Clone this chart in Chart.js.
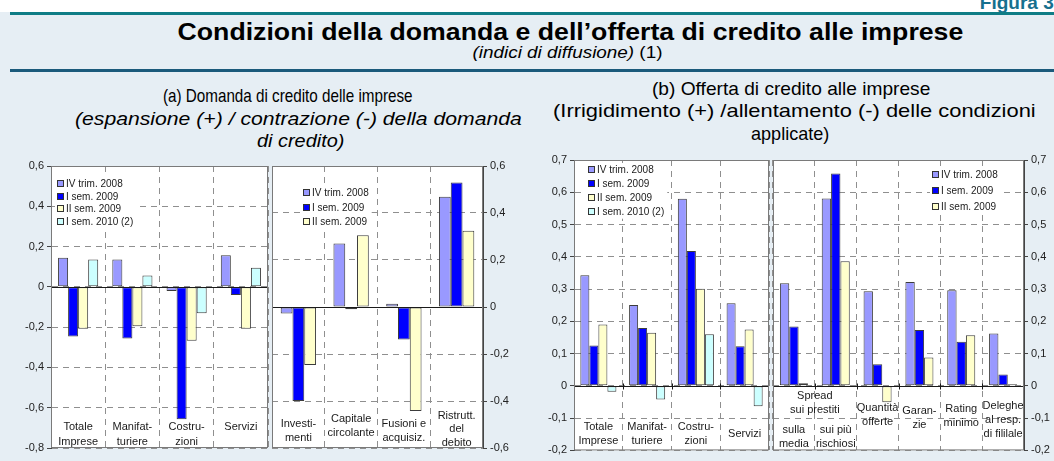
<!DOCTYPE html>
<html>
<head>
<meta charset="utf-8">
<title>Condizioni della domanda e dell'offerta di credito alle imprese</title>
<script src="https://cdn.jsdelivr.net/npm/chart.js@4.4.1/dist/chart.umd.min.js"></script>
<style>
  body { margin: 0; width: 1054px; height: 461px; background: #e6eef4; position: relative; overflow: hidden;
         font-family: "Liberation Sans", Arial, sans-serif; color: #000; }
  .strip { position: absolute; left: 0; top: 0; width: 1054px; height: 12px; background: #fff; overflow: hidden; }
  .fig { position: absolute; right: -5px; top: -8px; font-weight: bold; font-size: 19px; color: #16708e; white-space: nowrap; }
  .rule { position: absolute; left: 10px; right: 0; }
  .t { position: absolute; white-space: nowrap; line-height: 1; transform-origin: center center;
       font-family: "Liberation Sans Narrow", "Arial Narrow", "Liberation Sans", Arial, sans-serif; }
  .box { position: absolute; }
</style>
</head>
<body>
<div class="strip"><div class="fig">Figura 3.</div></div>
<div class="rule" style="top:12px;height:3px;background:#0f7d86"></div>
<div class="rule" style="top:69px;height:3px;background:#1b5a7b"></div>

<div class="t" data-cx="570" data-cy="32" data-w="786" style="font-size:24px;font-weight:bold">Condizioni della domanda e dell’offerta di credito alle imprese</div>
<div class="t" data-cx="567" data-cy="53" data-w="190" style="font-size:16px"><i>(indici di diffusione)</i> (1)</div>

<div class="t" data-cx="288" data-cy="95" data-w="250" style="font-size:19px">(a) Domanda di credito delle imprese</div>
<div class="t" data-cx="298" data-cy="118" data-w="447" style="font-size:19px;font-style:italic">(espansione (+) / contrazione (-) della domanda</div>
<div class="t" data-cx="300" data-cy="140" data-w="87" style="font-size:19px;font-style:italic">di credito)</div>

<div class="t" data-cx="791" data-cy="88" data-w="278" style="font-size:19px">(b) Offerta di credito alle imprese</div>
<div class="t" data-cx="794" data-cy="110" data-w="483" style="font-size:19px">(Irrigidimento (+) /allentamento (-) delle condizioni</div>
<div class="t" data-cx="790" data-cy="133" data-w="78" style="font-size:19px">applicate)</div>

<div class="box" style="left:5px;top:150px"><canvas id="demandSector" width="265" height="310"></canvas></div>
<div class="box" style="left:270px;top:150px"><canvas id="demandPurpose" width="275" height="310"></canvas></div>
<div class="box" style="left:530px;top:145px"><canvas id="supplySector" width="242" height="315"></canvas></div>
<div class="box" style="left:772px;top:145px"><canvas id="supplyTerms" width="282" height="315"></canvas></div>

<script>
// series
const seriesLabels = ['IV trim. 2008', 'I sem. 2009', 'II sem. 2009', 'I sem. 2010 (2)'];
const seriesColors = ['#9999ff', '#0000ff', '#ffffcc', '#ccffff'];

// (a) demand by sector
const sectorCats = [['Totale', 'Imprese'], ['Manifat-', 'turiere'], ['Costru-', 'zioni'], ['Servizi']];
const demandIV08 = [0.144, 0.136, -0.02, 0.157];
const demandI09 = [-0.246, -0.257, -0.657, -0.041];
const demandII09 = [-0.208, -0.195, -0.267, -0.208];
const demandI10 = [0.136, 0.057, -0.131, 0.095];

// (a) demand by purpose
const purposeCats = [['Investi-', 'menti'], ['Capitale', 'circolante'], ['Fusioni e', 'acquisiz.'], ['Ristrutt.', 'del', 'debito']];
const purposeIV08 = [-0.028, 0.27, 0.014, 0.469];
const purposeI09 = [-0.40, -0.01, -0.138, 0.53];
const purposeII09 = [-0.247, 0.305, -0.443, 0.325];

// (b) supply by sector
const supplyIV08 = [0.343, 0.251, 0.58, 0.256];
const supplyI09 = [0.125, 0.179, 0.418, 0.123];
const supplyII09 = [0.19, 0.165, 0.301, 0.175];
const supplyI10 = [-0.018, -0.042, 0.16, -0.063];

// (b) supply terms
const termsCats = [['sulla', 'media'], ['sui più', 'rischiosi'], ['Quantità', 'offerte'], ['Garan-', 'zie'], ['Rating', 'minimo'], ['Deleghe', 'al resp.', 'di fililale']];
const spreadGroup = ['Spread', 'sui prestiti'];
const termsIV08 = [0.318, 0.581, 0.293, 0.322, 0.296, 0.162];
const termsI09 = [0.184, 0.658, 0.067, 0.173, 0.137, 0.035];
const termsII09 = [0.008, 0.386, -0.051, 0.088, 0.157, 0.005];

// y ticks
const ticksDemandSector = [-0.8, -0.6, -0.4, -0.2, 0, 0.2, 0.4, 0.6];
const ticksDemandPurpose = [-0.6, -0.4, -0.2, 0, 0.2, 0.4, 0.6];
const ticksSupply = [-0.2, -0.1, 0, 0.1, 0.2, 0.3, 0.4, 0.5, 0.6, 0.7];

// place and stretch the header texts
document.querySelectorAll('.t').forEach(el => {
  const w0 = el.offsetWidth, h0 = el.offsetHeight;
  el.style.left = (el.dataset.cx - w0 / 2) + 'px';
  el.style.top = (el.dataset.cy - h0 / 2) + 'px';
  el.style.transform = 'scaleX(' + (el.dataset.w / w0) + ')';
});

const FONT = '"Liberation Sans", Arial, sans-serif';
Chart.defaults.font.family = FONT;

const fmt = v => v === 0 ? '0' : (Math.round(v * 10) / 10).toFixed(1).replace('.', ',');

const panelPlugin = {
  id: 'panel',
  beforeDraw(chart) {
    const { ctx, chartArea: a } = chart;
    ctx.save();
    ctx.fillStyle = '#fff';
    ctx.fillRect(a.left, a.top, a.right - a.left, a.bottom - a.top);
    ctx.restore();
  },
  afterDatasetsDraw(chart, args, opts) {
    const { ctx, chartArea: a, scales: { x, y } } = chart;
    const y0 = Math.round(y.getPixelForValue(0)) + 0.5;
    ctx.save();
    ctx.strokeStyle = '#1a1a1a';
    ctx.lineWidth = 1;
    ctx.beginPath();
    ctx.moveTo(a.left, y0);
    ctx.lineTo(a.right, y0);
    if (opts.zeroTicks) {
      for (let i = 1; i < chart.data.labels.length; i++) {
        const px = Math.round((x.getPixelForValue(i - 1) + x.getPixelForValue(i)) / 2) + 0.5;
        ctx.moveTo(px, y0 - 3);
        ctx.lineTo(px, y0 + 3);
      }
    }
    ctx.stroke();
    ctx.strokeStyle = '#7a7a7a';
    ctx.strokeRect(a.left + 0.5, a.top + 0.5, a.right - a.left - 1, a.bottom - a.top - 1);
    ctx.restore();
  },
  afterDraw(chart, args, opts) {
    const { ctx, chartArea: a, scales: { x } } = chart;
    ctx.save();
    // category labels inside the plot
    ctx.font = '11px ' + FONT;
    ctx.fillStyle = '#1a1a1a';
    ctx.textAlign = 'center';
    ctx.textBaseline = 'middle';
    const lh = opts.lh;
    chart.data.labels.forEach((lab, i) => {
      const lines = [].concat(lab);
      const cx = x.getPixelForValue(i);
      if (opts.top !== undefined) {
        lines.forEach((t, k) => ctx.fillText(t, cx, a.bottom - opts.top + k * lh));
      } else {
        const mid = a.bottom - (Array.isArray(opts.mid) ? opts.mid[i] : opts.mid);
        lines.forEach((t, k) => ctx.fillText(t, cx, mid + (k - (lines.length - 1) / 2) * lh));
      }
    });
    if (opts.group) {
      const g = opts.group;
      const cx = (x.getPixelForValue(g.from) + x.getPixelForValue(g.to)) / 2;
      const mid = a.bottom - g.mid;
      g.text.forEach((t, k) => ctx.fillText(t, cx, mid + (k - (g.text.length - 1) / 2) * lh));
    }
    // legend box
    const L = opts.legend;
    ctx.font = '10px ' + FONT;
    ctx.textAlign = 'left';
    const sets = chart.data.datasets;
    const xx = Math.round(a.left + L.x);
    const tw = Math.max(...sets.map(d => ctx.measureText(d.label).width));
    ctx.fillStyle = '#fff';
    ctx.fillRect(xx - 2, Math.round(a.top + L.y) - 7, tw + 14, (sets.length - 1) * L.gap + 14);
    sets.forEach((d, i) => {
      const yy = Math.round(a.top + L.y + i * L.gap);
      ctx.fillStyle = d.backgroundColor;
      ctx.fillRect(xx, yy - 4, 7, 7);
      ctx.strokeStyle = '#333';
      ctx.strokeRect(xx + 0.5, yy - 3.5, 6, 6);
      ctx.fillStyle = '#1a1a1a';
      ctx.fillText(d.label, xx + 9, yy);
    });
    ctx.restore();
  }
};

function panel(id, cats, values, ticks, o) {
  return new Chart(document.getElementById(id), {
    type: 'bar',
    data: {
      labels: cats,
      datasets: values.map((d, i) => ({
        label: seriesLabels[i],
        data: d,
        backgroundColor: seriesColors[i],
        borderColor: '#3c3c3c',
        borderWidth: 1,
        borderSkipped: false,
        categoryPercentage: o.cat,
        barPercentage: 1
      }))
    },
    options: {
      responsive: false,
      animation: false,
      layout: { padding: o.pad },
      plugins: {
        legend: { display: false },
        tooltip: { enabled: false },
        panel: o.deco
      },
      scales: {
        x: {
          grid: { offset: true, color: '#8f8f8f', drawTicks: false },
          border: { display: false, dash: [6, 5] },
          ticks: { display: false },
          afterFit: s => { s.height = 0; }
        },
        y: {
          position: o.side,
          min: ticks[0],
          max: ticks[ticks.length - 1],
          afterBuildTicks: s => { s.ticks = ticks.map(v => ({ value: v })); },
          afterFit: s => { s.width = o.axisW; },
          grid: { color: '#8f8f8f', tickLength: 4, tickColor: '#444' },
          border: { color: '#444', dash: [6, 5] },
          ticks: { font: { size: 11 }, color: '#222', padding: 3, callback: v => fmt(v) }
        }
      }
    },
    plugins: [panelPlugin]
  });
}

panel('demandSector', sectorCats, [demandIV08, demandI09, demandII09, demandI10], ticksDemandSector, {
  side: 'left', axisW: 46, cat: 0.74,
  pad: { left: 0, right: 2, top: 16, bottom: 12 },
  deco: { lh: 15, top: 21, legend: { x: 6, y: 18, gap: 12.5 } }
});

panel('demandPurpose', purposeCats, [purposeIV08, purposeI09, purposeII09], ticksDemandPurpose, {
  side: 'right', axisW: 62, cat: 0.67,
  pad: { left: 2, right: 0, top: 16, bottom: 12 },
  deco: { lh: 13.5, mid: [17, 22, 17, 19], legend: { x: 31, y: 26.7, gap: 14.8 } }
});

panel('supplySector', sectorCats, [supplyIV08, supplyI09, supplyII09, supplyI10], ticksSupply, {
  side: 'left', axisW: 44, cat: 0.74,
  pad: { left: 0, right: 3, top: 15, bottom: 7 },
  deco: { lh: 14, mid: 16, zeroTicks: true, legend: { x: 14, y: 10, gap: 13.9 } }
});

panel('supplyTerms', termsCats, [termsIV08, termsI09, termsII09], ticksSupply, {
  side: 'right', axisW: 30, cat: 0.67,
  pad: { left: 1, right: 0, top: 15, bottom: 7 },
  deco: { lh: 14, mid: [13, 13, 35, 32, 34, 30], zeroTicks: true,
          group: { from: 0, to: 1, mid: 47, text: spreadGroup },
          legend: { x: 159, y: 15, gap: 15.8 } }
});
</script>
</body>
</html>
